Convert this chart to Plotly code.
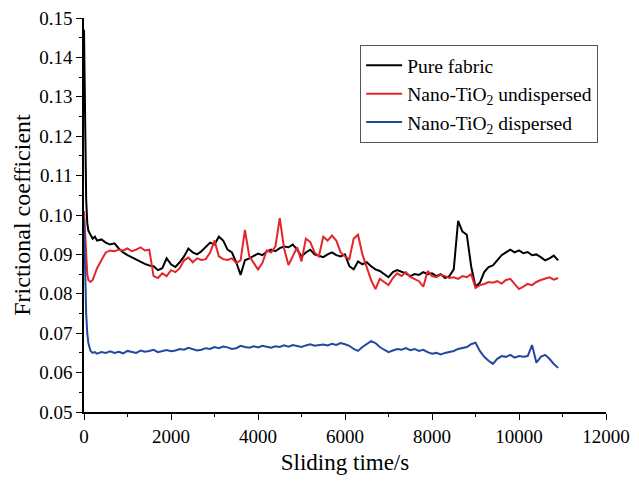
import plotly.graph_objects as go

# Sliding time grid (s)
time_s = [0, 25, 50, 75, 100, 150, 200, 250, 300] + list(range(400, 11000, 100))

pure_fabric = [
    0.147, 0.120, 0.104, 0.098, 0.096, 0.095, 0.094, 0.0945, 0.0935,
    0.0938, 0.0930, 0.0925, 0.0928, 0.0915, 0.0905, 0.0898, 0.0892, 0.0886, 0.0880,
    0.0876, 0.0872, 0.0870, 0.0860, 0.0865, 0.0890, 0.0875, 0.0868, 0.0880, 0.0895,
    0.0915, 0.0905, 0.0900, 0.0908, 0.0918, 0.0930, 0.0925, 0.0945, 0.0935, 0.0912,
    0.0905, 0.0880, 0.0848, 0.0885, 0.0890, 0.0896, 0.0902, 0.0898, 0.0907, 0.0912,
    0.0908, 0.0916, 0.0920, 0.0918, 0.0925, 0.0912, 0.0895, 0.0905, 0.0912, 0.0900,
    0.0897, 0.0893, 0.0900, 0.0905, 0.0898, 0.0895, 0.0900, 0.0870, 0.0862, 0.0882,
    0.0875, 0.0880, 0.0870, 0.0862, 0.0858, 0.0850, 0.0842, 0.0855, 0.0860, 0.0856,
    0.0852, 0.0845, 0.0850, 0.0848, 0.0855, 0.0850, 0.0852, 0.0845, 0.0850, 0.0840,
    0.0845, 0.0862, 0.0985, 0.0958, 0.0950, 0.0870, 0.0818, 0.0828, 0.0855, 0.0868,
    0.0872, 0.0885, 0.0898, 0.0905, 0.0912, 0.0905, 0.0910, 0.0903, 0.0906, 0.0898,
    0.0900, 0.0893, 0.0885, 0.0890, 0.0897, 0.0885,
]

tio2_undispersed = [
    0.101, 0.096, 0.089, 0.085, 0.0835, 0.0830, 0.0835, 0.0850, 0.0865,
    0.0885, 0.0905, 0.0910, 0.0908, 0.0912, 0.0910, 0.0915, 0.0908, 0.0912, 0.0918,
    0.0910, 0.0912, 0.0845, 0.0840, 0.0852, 0.0845, 0.0860, 0.0855, 0.0865, 0.0885,
    0.0892, 0.0880, 0.0890, 0.0886, 0.0888, 0.0905, 0.0935, 0.0895, 0.0888, 0.0886,
    0.0890, 0.0878, 0.0885, 0.0962, 0.0895, 0.0880, 0.0862, 0.0878, 0.0910, 0.0905,
    0.0920, 0.0992, 0.0915, 0.0873, 0.0895, 0.0918, 0.0882, 0.0940, 0.0932, 0.0905,
    0.0895, 0.0945, 0.0935, 0.0948, 0.0935, 0.0905, 0.0895, 0.0888, 0.0940, 0.0950,
    0.0900, 0.0865, 0.0835, 0.0812, 0.0838, 0.0830, 0.0822, 0.0840, 0.0852, 0.0845,
    0.0855, 0.0843, 0.0838, 0.0832, 0.0818, 0.0858, 0.0845, 0.0842, 0.0848, 0.0845,
    0.0840, 0.0842, 0.0838, 0.0845, 0.0842, 0.0850, 0.0815, 0.0822, 0.0825, 0.0830,
    0.0828, 0.0832, 0.0826, 0.0835, 0.0838, 0.0825, 0.0812, 0.0818, 0.0825, 0.0822,
    0.0830, 0.0835, 0.0838, 0.0842, 0.0836, 0.0840,
]

tio2_dispersed = [
    0.099, 0.085, 0.075, 0.070, 0.0675, 0.0655, 0.0650, 0.0652, 0.0648,
    0.0652, 0.0650, 0.0654, 0.0650, 0.0653, 0.0649, 0.0655, 0.0652, 0.0650, 0.0656,
    0.0653, 0.0655, 0.0658, 0.0652, 0.0655, 0.0657, 0.0654, 0.0656, 0.0660, 0.0658,
    0.0663, 0.0660, 0.0656, 0.0658, 0.0662, 0.0660, 0.0665, 0.0662, 0.0666, 0.0664,
    0.0660, 0.0662, 0.0668, 0.0665, 0.0663, 0.0667, 0.0664, 0.0668, 0.0666, 0.0663,
    0.0667, 0.0665, 0.0669, 0.0666, 0.0670, 0.0668, 0.0665, 0.0669, 0.0672, 0.0668,
    0.0670, 0.0671, 0.0669, 0.0673, 0.0670, 0.0675, 0.0672, 0.0668, 0.0660, 0.0655,
    0.0665, 0.0672, 0.0680, 0.0675, 0.0665, 0.0658, 0.0652, 0.0656, 0.0660, 0.0658,
    0.0662, 0.0657, 0.0660, 0.0655, 0.0658, 0.0652, 0.0648, 0.0650, 0.0646, 0.0650,
    0.0652, 0.0655, 0.0660, 0.0662, 0.0665, 0.0672, 0.0676, 0.0655, 0.0640, 0.0630,
    0.0622, 0.0635, 0.0642, 0.0640, 0.0645, 0.0638, 0.0642, 0.0640, 0.0642, 0.0670,
    0.0625, 0.0640, 0.0645, 0.0635, 0.0622, 0.0612,
]

series_names = ["Pure fabric", "Nano-TiO<sub>2</sub> undispersed", "Nano-TiO<sub>2</sub> dispersed"]
series_colors = ["#000000", "#e3262b", "#2348a0"]
series_values = [pure_fabric, tio2_undispersed, tio2_dispersed]

x_ticks = [0, 2000, 4000, 6000, 8000, 10000, 12000]
y_ticks = [0.05, 0.06, 0.07, 0.08, 0.09, 0.10, 0.11, 0.12, 0.13, 0.14, 0.15]

FONT = "Liberation Serif, Times New Roman, serif"

fig = go.Figure()
for name, color, vals in zip(series_names, series_colors, series_values):
    fig.add_trace(go.Scatter(x=time_s, y=vals, mode="lines", name=name,
                             line=dict(color=color, width=2)))

axis_common = dict(
    showgrid=False, zeroline=False, showline=True, linecolor="black", linewidth=1.5,
    ticks="outside", ticklen=6, tickwidth=1.3, tickcolor="black",
    tickfont=dict(family=FONT, size=19, color="black"),
    mirror=False, automargin=False, ticklabeloverflow="allow",
)

fig.update_layout(
    width=631, height=471,
    margin=dict(l=76, r=33, t=10, b=67),
    paper_bgcolor="white", plot_bgcolor="white",
    font=dict(family=FONT, color="black"),
    xaxis=dict(range=[0, 12000], tickvals=x_ticks, tickformat="d",
               title=dict(text="Sliding time/s", font=dict(family=FONT, size=23), standoff=8),
               minor=dict(ticks="outside", ticklen=3, tickcolor="black", dtick=1000, showgrid=False),
               **axis_common),
    yaxis=dict(range=[0.05, 0.15], tickvals=y_ticks, tickformat=".2f",
               title=dict(text="Frictional coefficient", font=dict(family=FONT, size=24), standoff=2),
               minor=dict(ticks="outside", ticklen=3, tickcolor="black", dtick=0.005, showgrid=False),
               **axis_common),
    legend=dict(x=0.529, y=0.931, xanchor="left", yanchor="top",
                bordercolor="#555555", borderwidth=1, bgcolor="white",
                font=dict(family=FONT, size=19.5, color="black"),
                itemwidth=36, tracegroupgap=0),
    showlegend=True,
)

fig.write_html("out.html")
